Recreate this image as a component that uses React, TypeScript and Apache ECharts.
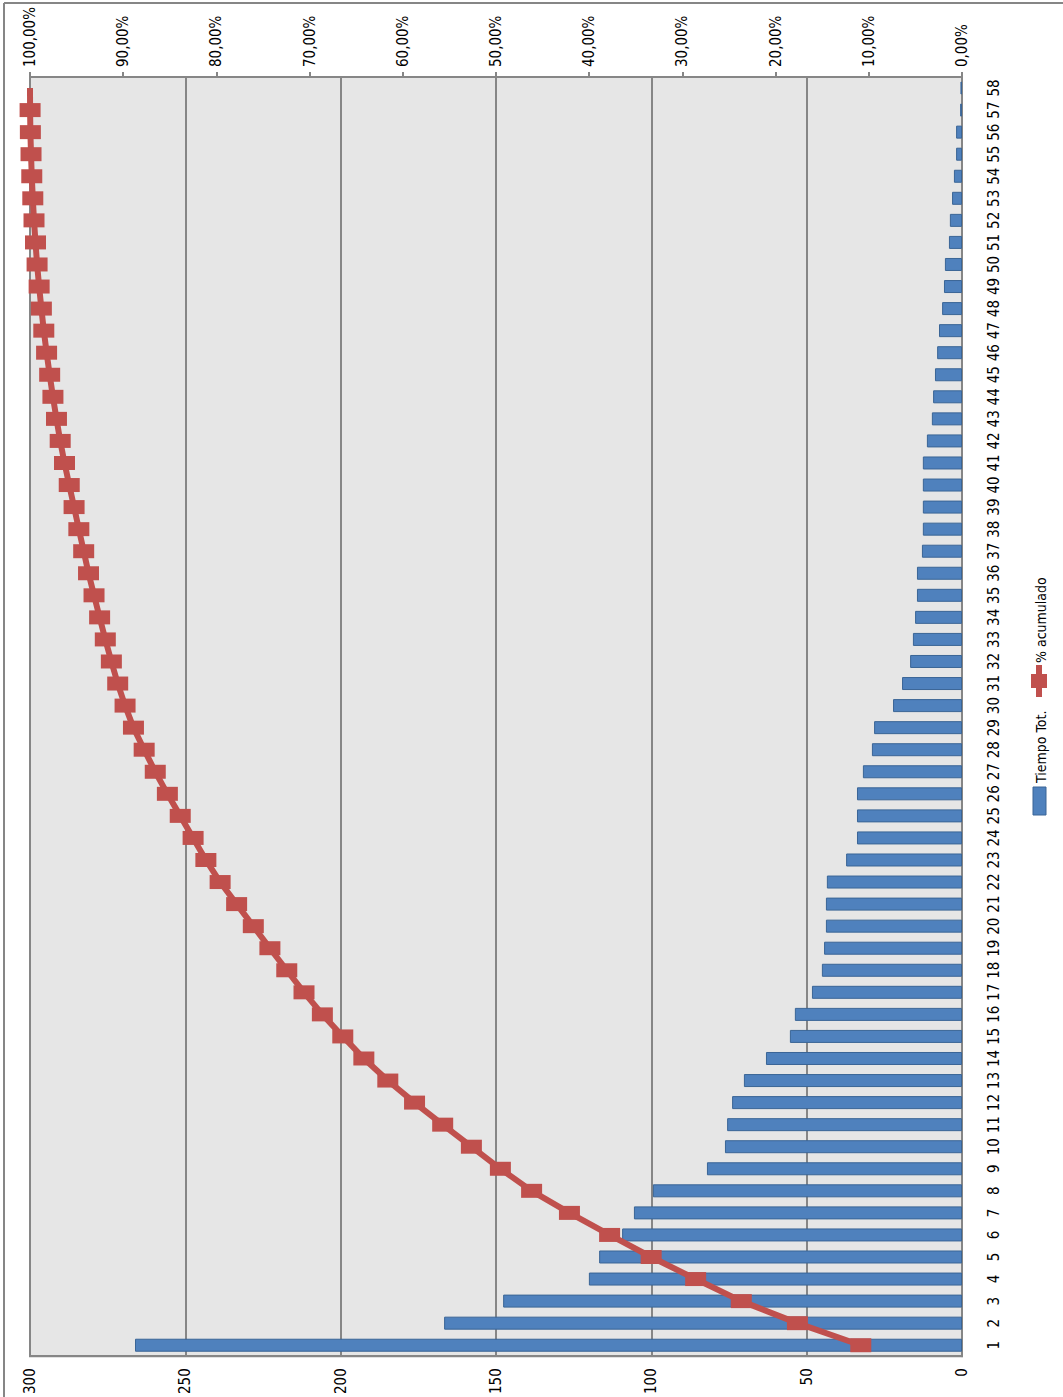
import React, { useEffect, useRef } from "react";
import * as echarts from "echarts";

const categories: string[] = Array.from({ length: 58 }, (_, i) => String(i + 1));

const tiempoTot: number[] = [
  266.2, 166.7, 147.7, 120.1, 116.8, 109.4, 105.6, 99.5, 82.1, 76.3,
  75.6, 74.0, 70.2, 63.1, 55.4, 53.8, 48.3, 45.1, 44.4, 43.8,
  43.8, 43.5, 37.3, 33.8, 33.8, 33.8, 31.9, 29.0, 28.3, 22.2,
  19.3, 16.7, 15.8, 15.1, 14.5, 14.5, 12.9, 12.6, 12.6, 12.6,
  12.6, 11.3, 9.7, 9.3, 8.7, 8.0, 7.4, 6.4, 5.8, 5.5,
  4.2, 3.9, 3.2, 2.6, 1.9, 1.9, 0.6, 0.5,
];

const pctAcumulado: number[] = [
  10.86, 17.66, 23.68, 28.58, 33.35, 37.81, 42.12, 46.18, 49.53, 52.64,
  55.72, 58.74, 61.61, 64.18, 66.44, 68.63, 70.6, 72.45, 74.26, 76.04,
  77.83, 79.6, 81.13, 82.5, 83.88, 85.26, 86.56, 87.75, 88.9, 89.8,
  90.59, 91.27, 91.92, 92.53, 93.13, 93.72, 94.24, 94.76, 95.27, 95.79,
  96.3, 96.76, 97.16, 97.54, 97.89, 98.22, 98.52, 98.78, 99.02, 99.24,
  99.41, 99.57, 99.7, 99.81, 99.89, 99.96, 99.99, 100,
];

const legendNames = ["Tiempo Tot.", "% acumulado"];

const FONT = "'Liberation Sans Narrow', 'DejaVu Sans Condensed', 'Open Sans', sans-serif";
const BLUE = "#4f81bd";
const BLUE_BORDER = "#3a6596";
const RED = "#c0504d";
const GRAY = "#868686";

export default function App() {
  const ref = useRef<HTMLDivElement>(null);

  useEffect(() => {
    document.body.style.margin = "0";
    if (!ref.current) return;
    const chart = echarts.init(ref.current, undefined, { renderer: "svg" });

    const lineData = pctAcumulado.map((v, i) =>
      i === pctAcumulado.length - 1 ? { value: v, symbolSize: 0 } : v
    );

    chart.setOption({
      animation: false,
      textStyle: { fontFamily: FONT },
      grid: {
        left: 30,
        right: 101,
        top: 77,
        bottom: 40,
        show: true,
        backgroundColor: "#e6e6e6",
        borderColor: GRAY,
        borderWidth: 2,
      },
      xAxis: [
        {
          type: "value",
          min: 0,
          max: 300,
          interval: 50,
          inverse: true,
          position: "bottom",
          axisLine: { show: true, lineStyle: { color: GRAY, width: 2 } },
          axisTick: { show: false },
          splitLine: { show: true, lineStyle: { color: GRAY, width: 2 } },
          axisLabel: {
            rotate: 90,
            margin: 12,
            color: "#000",
            fontSize: 15,
            fontFamily: FONT,
          },
        },
        {
          type: "value",
          min: 0,
          max: 100,
          interval: 10,
          inverse: true,
          position: "top",
          axisLine: { show: true, lineStyle: { color: GRAY, width: 2 } },
          axisTick: { show: true, length: 5, lineStyle: { color: GRAY, width: 2 } },
          splitLine: { show: false },
          axisLabel: {
            rotate: -90,
            margin: 10,
            color: "#000",
            fontSize: 15,
            fontFamily: FONT,
            formatter: (v: number) => v.toFixed(2).replace(".", ",") + "%",
          },
        },
      ],
      yAxis: {
        type: "category",
        data: categories,
        position: "right",
        axisLine: { show: true, lineStyle: { color: GRAY, width: 2 } },
        axisTick: { show: false },
        axisLabel: {
          rotate: 90,
          margin: 24,
          color: "#000",
          fontSize: 15,
          fontFamily: FONT,
          interval: 0,
        },
      },
      series: [
        {
          name: legendNames[0],
          type: "bar",
          xAxisIndex: 0,
          data: tiempoTot,
          barWidth: 13,
          barMinHeight: 1,
          itemStyle: { color: BLUE, borderColor: BLUE_BORDER, borderWidth: 1 },
          z: 2,
        },
        {
          name: legendNames[1],
          type: "line",
          xAxisIndex: 1,
          data: lineData,
          symbol: "rect",
          symbolSize: [21, 14],
          lineStyle: { color: RED, width: 6 },
          itemStyle: { color: RED },
          z: 3,
        },
      ],
      graphic: [
        {
          type: "line",
          shape: { x1: 4, y1: 3, x2: 1063, y2: 3 },
          style: { stroke: GRAY, lineWidth: 2 },
        },
        {
          type: "line",
          shape: { x1: 4, y1: 3, x2: 4, y2: 1397 },
          style: { stroke: GRAY, lineWidth: 2 },
        },
        {
          type: "rect",
          shape: { x: 1033, y: 787, width: 13, height: 28 },
          style: { fill: BLUE, stroke: BLUE_BORDER, lineWidth: 1 },
        },
        {
          type: "text",
          x: 1041,
          y: 783,
          rotation: Math.PI / 2,
          style: {
            text: legendNames[0],
            fill: "#000",
            font: `14px ${FONT}`,
            textAlign: "left",
            textVerticalAlign: "middle",
          },
        },
        {
          type: "line",
          shape: { x1: 1039, y1: 665, x2: 1039, y2: 697 },
          style: { stroke: RED, lineWidth: 6 },
        },
        {
          type: "rect",
          shape: { x: 1031, y: 674, width: 16, height: 14 },
          style: { fill: RED },
        },
        {
          type: "text",
          x: 1041,
          y: 663,
          rotation: Math.PI / 2,
          style: {
            text: legendNames[1],
            fill: "#000",
            font: `14px ${FONT}`,
            textAlign: "left",
            textVerticalAlign: "middle",
          },
        },
      ],
    });

    return () => chart.dispose();
  }, []);

  return <div ref={ref} style={{ width: 1063, height: 1397 }} />;
}
